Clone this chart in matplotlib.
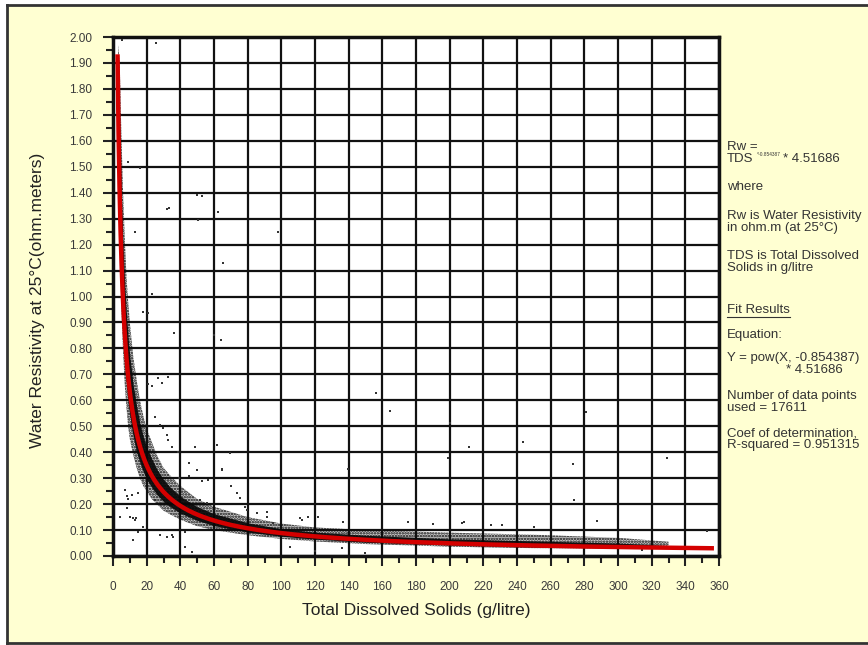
import numpy as np
import matplotlib
matplotlib.use("Agg")
import matplotlib.pyplot as plt
from matplotlib.ticker import MultipleLocator, FormatStrFormatter
from matplotlib.lines import Line2D
from matplotlib.patches import Rectangle

plt.rcParams['font.family'] = ['Liberation Sans', 'DejaVu Sans']
plt.rcParams['hatch.linewidth'] = 1.2

# Power-law fit reported by the regression
fit_a = 4.51686
fit_b = -0.854387
fit_x_start = 2.7
fit_x_end = 357
n_points = 17611
r_squared = 0.951315

# Envelope of the dense cloud of measurements (TDS g/l -> Rw ohm.m)
band_x = [3, 4, 5, 6, 7, 8, 9, 10, 12, 14, 16, 18, 20, 23, 26, 30, 34, 40,
          50, 60, 80, 100, 120, 150, 200, 250, 300, 330]
outer_lo = [1.60, 1.20, 0.95, 0.78, 0.66, 0.57, 0.50, 0.45, 0.39, 0.34, 0.30,
            0.27, 0.25, 0.22, 0.20, 0.175, 0.16, 0.14, 0.115, 0.10, 0.08,
            0.066, 0.056, 0.046, 0.036, 0.030, 0.027, 0.027]
outer_hi = [1.97, 1.90, 1.62, 1.40, 1.22, 1.08, 0.98, 0.90, 0.77, 0.68, 0.60,
            0.54, 0.49, 0.44, 0.39, 0.34, 0.31, 0.27, 0.22, 0.19, 0.15,
            0.125, 0.11, 0.10, 0.09, 0.082, 0.07, 0.055]
inner_lo = [1.70, 1.25, 1.02, 0.85, 0.74, 0.66, 0.59, 0.54, 0.46, 0.40, 0.36,
            0.325, 0.295, 0.265, 0.237, 0.21, 0.19, 0.165, 0.137, 0.117,
            0.092, 0.076, 0.065, 0.053, 0.042, 0.035, 0.031, 0.029]
inner_hi = [1.95, 1.68, 1.40, 1.19, 1.04, 0.93, 0.84, 0.77, 0.66, 0.58, 0.51,
            0.46, 0.42, 0.375, 0.335, 0.295, 0.265, 0.23, 0.19, 0.163, 0.128,
            0.105, 0.092, 0.08, 0.066, 0.058, 0.05, 0.04]

# Scattered samples away from the main trend
outlier_tds = [25.4, 16, 49.7, 52.7, 31.9, 33.5, 62.6, 50.7, 13, 9.1, 5.1,
               65.6, 23, 21, 17.7, 36.4, 64.2, 26.9, 28.9, 32.9, 20.6, 23.3,
               25, 27.9, 32.9, 48.7, 38.8, 61.6, 69.5, 45.3, 49.7, 65, 56.6,
               7.1, 11.1, 15, 8.1, 10.1, 13, 4.2, 15, 27.9, 35.8, 42.8, 91.3,
               95.3, 78.4, 85.4, 112, 156.3, 164.6, 139.8, 200.2, 199.2,
               211.7, 243.4, 281, 273.1, 274.1, 287.8, 329, 207.2, 208.7,
               224.6, 231, 136.8, 353, 136.2, 149.7, 314, 122, 8.5, 9.2, 12,
               13.5, 31.9, 34.9, 12, 18, 42.8, 46.7, 25, 29.9, 31.9, 34.9,
               64.6, 39, 45, 53, 73.5, 75.5, 51.7, 55.7, 79.4, 91.3, 111, 116,
               98, 60, 70, 175, 250, 190, 120, 105]
outlier_rw = [1.975, 1.496, 1.39, 1.387, 1.336, 1.34, 1.327, 1.295, 1.25,
              1.52, 1.99, 1.13, 1.01, 0.935, 0.94, 0.858, 0.832, 0.685, 0.665,
              0.69, 0.663, 0.657, 0.537, 0.505, 0.447, 0.421, 0.402, 0.428,
              0.396, 0.357, 0.331, 0.334, 0.293, 0.254, 0.235, 0.242, 0.184,
              0.151, 0.14, 0.151, 0.094, 0.081, 0.074, 0.094, 0.151, 0.126,
              0.19, 0.164, 0.139, 0.627, 0.559, 0.334, 0.514, 0.376, 0.421,
              0.44, 0.556, 0.354, 0.216, 0.135, 0.376, 0.126, 0.132, 0.119,
              0.119, 0.132, 0.098, 0.03, 0.013, 0.023, 0.151, 0.23, 0.22,
              0.145, 0.148, 0.074, 0.081, 0.062, 0.113, 0.036, 0.017, 0.216,
              0.492, 0.466, 0.421, 0.331, 0.30, 0.31, 0.29, 0.242, 0.222,
              0.216, 0.203, 0.177, 0.171, 0.145, 0.151, 1.25, 0.85, 0.27,
              0.13, 0.11, 0.125, 0.02, 0.035]

W, H = 868, 645


def fx(px):
    return px / W


def fy(py):
    return 1 - py / H


fig = plt.figure(figsize=(W / 100, H / 100), dpi=100, facecolor='white')

# pale yellow panel, framed on the left, top and bottom
fig.add_artist(Rectangle((fx(7), fy(643)), 1.0, (643 - 5) / H,
                         transform=fig.transFigure, facecolor='#FFFFD2',
                         lw=0, zorder=0))
frame = dict(color='#333333', lw=2, transform=fig.transFigure)
fig.add_artist(Line2D([fx(7), fx(7)], [fy(5), fy(643)], **frame))
fig.add_artist(Line2D([fx(7), 1], [fy(5), fy(5)], **frame))
fig.add_artist(Line2D([fx(7), 1], [fy(643), fy(643)], **frame))

ax = fig.add_axes([fx(113), fy(556), (719 - 113) / W, (556 - 37) / H])
ax.set_facecolor('white')

# loose fringe of the cloud, speckled
ax.fill_between(band_x, outer_lo, outer_hi, facecolor='#000000', alpha=0.22,
                lw=0, zorder=2)
ax.fill_between(band_x, outer_lo, outer_hi, facecolor='none',
                edgecolor='#111111', hatch='......', lw=0, zorder=2)
# dense core
ax.fill_between(band_x, inner_lo, inner_hi, color='#080808', alpha=0.92,
                lw=0, zorder=3)
ax.scatter(outlier_tds, outlier_rw, s=1.8, marker='s', color='#333333', lw=0,
           zorder=4)

# fitted curve Rw = a * TDS^b
fit_x = np.linspace(fit_x_start, fit_x_end, 600)
ax.plot(fit_x, fit_a * fit_x ** fit_b, color='#D40000', lw=3.2,
        solid_capstyle='butt', zorder=5)

ax.set_xlim(0, 360)
ax.set_ylim(0, 2.0)
ax.xaxis.set_major_locator(MultipleLocator(20))
ax.xaxis.set_minor_locator(MultipleLocator(10))
ax.yaxis.set_major_locator(MultipleLocator(0.1))
ax.yaxis.set_minor_locator(MultipleLocator(0.05))
ax.yaxis.set_major_formatter(FormatStrFormatter('%.2f'))

ax.grid(True, which='major', color='#111111', lw=1.6)
ax.set_axisbelow(True)
for s in ax.spines.values():
    s.set_linewidth(2.5)
    s.set_color('#111111')

ax.tick_params(which='major', direction='out', length=7, width=1.5,
               color='#222222', labelcolor='#3a3a3a', labelsize=8.5, pad=8)
ax.tick_params(which='minor', direction='out', length=5, width=1.5,
               color='#222222')
ax.tick_params(axis='x', pad=11)

fig.text(fx(416), fy(610), 'Total Dissolved Solids (g/litre)', ha='center',
         va='center', fontsize=12.5, color='#222222')
fig.text(fx(38), fy(300), 'Water Resistivity at 25°C(ohm.meters)',
         ha='center', va='center', rotation=90, fontsize=12.5,
         color='#222222')

# notes on the right-hand side
tx = fx(727)
tcol = '#333333'
fs = 9.5
lines = [
    (147, 'Rw ='),
    (187, 'where'),
    (216, 'Rw is Water Resistivity'),
    (228, 'in ohm.m (at 25°C)'),
    (256, 'TDS is Total Dissolved'),
    (268, 'Solids in g/litre'),
    (310, 'Fit Results'),
    (335, 'Equation:'),
    (358, 'Y = pow(X, %s)' % fit_b),
    (396, 'Number of data points'),
    (408, 'used = %d' % n_points),
    (433, 'Coef of determination,'),
    (445, 'R-squared = %s' % r_squared),
]
for py, txt in lines:
    fig.text(tx, fy(py), txt, ha='left', va='center', fontsize=fs, color=tcol)

fig.text(tx, fy(159), 'TDS', ha='left', va='center', fontsize=fs, color=tcol)
fig.text(fx(757), fy(155), '^%s' % fit_b, ha='left', va='center',
         fontsize=3.4, color=tcol)
fig.text(fx(783), fy(159), '* %s' % fit_a, ha='left', va='center',
         fontsize=fs, color=tcol)
fig.text(fx(786), fy(370), '* %s' % fit_a, ha='left', va='center',
         fontsize=fs, color=tcol)
# underline for the "Fit Results" heading
fig.add_artist(Line2D([fx(727), fx(790)], [fy(317), fy(317)], color=tcol,
                      lw=0.8, transform=fig.transFigure))

fig.savefig('out.png', dpi=100, facecolor=fig.get_facecolor())
